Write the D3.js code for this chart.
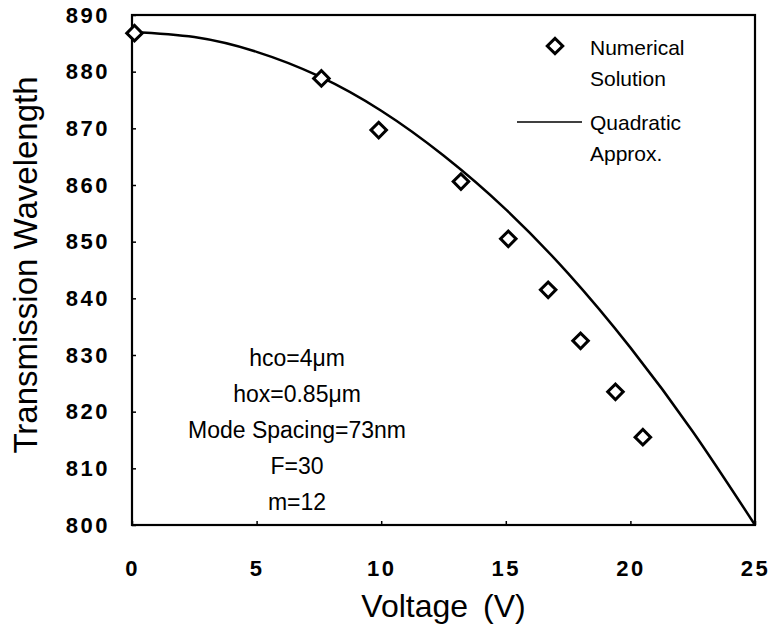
<!DOCTYPE html>
<html>
<head>
<meta charset="utf-8">
<script src="https://cdn.jsdelivr.net/npm/d3@7"></script>
<style>
  body { margin: 0; background: #fff; }
  svg { font-family: "Liberation Sans", Arial, sans-serif; }
  .axis text { font-size: 22px; font-weight: bold; letter-spacing: 2.5px; fill: #000; }
  .axis path, .axis line { stroke: #000; }
  .label { font-size: 32px; fill: #000; }
  .note { font-size: 23px; fill: #000; }
  .legend text { font-size: 21px; fill: #000; }
</style>
</head>
<body>
<script>
var margin = {top: 15, right: 16, bottom: 115, left: 132};
var width = 771 - margin.left - margin.right;
var height = 640 - margin.top - margin.bottom;

// numerical solution (diamonds)
var voltage = [0.1, 7.6, 9.9, 13.2, 15.1, 16.7, 18.0, 19.4, 20.5];
var wavelength = [886.8, 878.8, 869.7, 860.6, 850.5, 841.5, 832.5, 823.5, 815.5];

// quadratic approximation
var approxV = [0, 2.5, 5, 7.5, 10, 12.5, 15, 17.5, 20, 22.5, 25];
var approxW = [887, 886.1, 883.5, 879.2, 873.1, 865.2, 855.7, 844.4, 831.3, 816.5, 800];

var xTicks = [0, 5, 10, 15, 20, 25];
var yTicks = [800, 810, 820, 830, 840, 850, 860, 870, 880, 890];

var notes = ['hco=4\u03bcm', 'hox=0.85\u03bcm', 'Mode Spacing=73nm', 'F=30', 'm=12'];

var svg = d3.select('body')
	.append('svg')
	.attr('width', width + margin.left + margin.right)
	.attr('height', height + margin.top + margin.bottom)
.append('g')
	.attr('transform', 'translate(' + margin.left + ',' + margin.top + ')');

var xScale = d3.scaleLinear().domain([0, 25]).range([0, width]);
var yScale = d3.scaleLinear().domain([800, 890]).range([height, 0]);

var xAxis = d3.axisBottom(xScale).tickValues(xTicks).tickSizeInner(-4).tickSizeOuter(0).tickPadding(35);
var yAxis = d3.axisLeft(yScale).tickValues(yTicks).tickSizeInner(-4).tickSizeOuter(0).tickPadding(22);

svg.append('g')
	.attr('class', 'x axis')
	.attr('transform', 'translate(0,' + height + ')')
	.call(xAxis);

svg.append('g')
	.attr('class', 'y axis')
	.call(yAxis);

svg.selectAll('.axis .domain').remove();
svg.selectAll('.axis line').attr('stroke-width', 1.5);

// frame
svg.append('rect')
	.attr('width', width)
	.attr('height', height)
	.attr('fill', 'none')
	.attr('stroke', '#000')
	.attr('stroke-width', 2.2);

// quadratic curve
var line = d3.line()
	.x(function(d, i){ return xScale(approxV[i]); })
	.y(function(d){ return yScale(d); })
	.curve(d3.curveNatural);

svg.append('path')
	.datum(approxW)
	.attr('d', line)
	.attr('fill', 'none')
	.attr('stroke', '#000')
	.attr('stroke-width', 2.5);

// diamonds
var diamond = d3.symbol().type(d3.symbolSquare).size(120);

svg.selectAll('.pt')
	.data(wavelength)
	.enter().append('path')
	.attr('class', 'pt')
	.attr('d', diamond)
	.attr('transform', function(d, i){ return 'translate(' + xScale(voltage[i]) + ',' + yScale(d) + ') rotate(45)'; })
	.attr('fill', '#fff')
	.attr('stroke', '#000')
	.attr('stroke-width', 3);

// axis titles
svg.append('text')
	.attr('class', 'label')
	.attr('x', width / 2)
	.attr('y', height + 92)
	.attr('text-anchor', 'middle')
	.attr('word-spacing', '6px')
	.text('Voltage (V)');

svg.append('text')
	.attr('class', 'label')
	.style('font-size', '33px')
	.attr('transform', 'translate(' + (-95) + ',' + (height / 2 - 5) + ') rotate(-90)')
	.attr('text-anchor', 'middle')
	.text('Transmission Wavelength');

// parameter notes
svg.append('g').selectAll('text')
	.data(notes)
	.enter().append('text')
	.attr('class', 'note')
	.attr('x', 165)
	.attr('y', function(d, i){ return 351 + i * 36; })
	.attr('text-anchor', 'middle')
	.text(function(d){ return d; });

// legend
var legend = svg.append('g').attr('class', 'legend');

legend.append('path')
	.attr('d', diamond)
	.attr('transform', 'translate(423,31) rotate(45)')
	.attr('fill', '#fff')
	.attr('stroke', '#000')
	.attr('stroke-width', 3);

legend.append('line')
	.attr('x1', 385).attr('x2', 450)
	.attr('y1', 107).attr('y2', 107)
	.attr('stroke', '#000')
	.attr('stroke-width', 1.5);

var legendText = [['Numerical', 40], ['Solution', 71], ['Quadratic', 115], ['Approx.', 146]];
legend.selectAll('text')
	.data(legendText)
	.enter().append('text')
	.attr('x', 458)
	.attr('y', function(d){ return d[1]; })
	.text(function(d){ return d[0]; });
</script>
</body>
</html>
